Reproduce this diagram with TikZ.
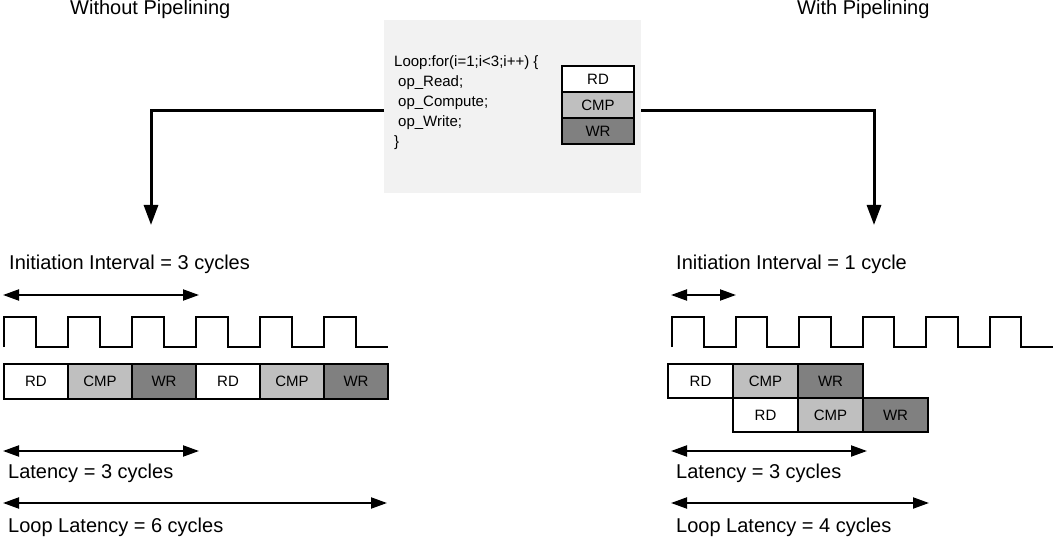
\documentclass[tikz,border=0pt]{standalone}
\usepackage{fontspec}
\setmainfont{Liberation Sans}
\usetikzlibrary{arrows.meta,positioning}

\begin{document}
\begin{tikzpicture}[
    x=1pt, y=-1pt,
    node distance=0pt,
    caption/.style = {anchor=base west, inner sep=0pt, font=\fontsize{20}{24}\selectfont},
    codeline/.style = {anchor=base west, inner sep=0pt, font=\fontsize{15}{18}\selectfont},
    stage/.style = {draw, line width=2.2pt, inner sep=0pt, outer sep=0pt, minimum width=64pt, minimum height=35pt, font=\fontsize{15}{18}\selectfont},
    rdbox/.style = {stage, fill=white},
    cmpbox/.style = {stage, fill=black!25},
    wrbox/.style = {stage, fill=black!50},
    clock/.style = {line width=2pt, line join=miter},
    flow/.style = {line width=3pt, -{Triangle[length=20pt, width=14pt]}},
    span/.style = {line width=2pt, {Triangle[length=16pt, width=11pt]}-{Triangle[length=16pt, width=11pt]}}
]
    \useasboundingbox (0,0) rectangle (1056,537);

    % Titres
    \node[caption] (title1) at (70,15) {Without Pipelining};
    \node[caption] (title2) at (797,15) {With Pipelining};

    % Boucle source
    \node[fill=black!5, outer sep=0pt, minimum width=257pt, minimum height=173pt] (code) at (512.5,106.5) {};
    \node[codeline] (c1) at (394,67) {Loop:for(i=1;i<3;i++) \{};
    \node[codeline] (c2) at (398,87) {op\_Read;};
    \node[codeline] (c3) at (398,107) {op\_Compute;};
    \node[codeline] (c4) at (398,127) {op\_Write;};
    \node[codeline] (c5) at (394,147) {\}};

    \node[rdbox, minimum width=72pt, minimum height=26pt] (rd0) at (598,79) {RD};
    \node[cmpbox, minimum width=72pt, minimum height=26pt] (cmp0) [below=of rd0] {CMP};
    \node[wrbox, minimum width=72pt, minimum height=26pt] (wr0) [below=of cmp0] {WR};

    \coordinate (tipL) at (151,225);
    \coordinate (tipR) at (874,225);
    \draw[flow] ([yshift=-4.5pt]code.west) -| (tipL);
    \draw[flow] ([yshift=-4.5pt]code.east) -| (tipR);

    % Sans pipeline
    \node[caption] (ii1) at (9,269) {Initiation Interval = 3 cycles};
    \coordinate (ii1a) at (3,295);
    \coordinate (ii1b) at (199,295);
    \draw[span] (ii1a) -- (ii1b);

    \draw[clock] (4,347) \foreach \k in {0,...,5} { -- ++(0,-30) -- ++(32,0) -- ++(0,30) -- ++(32,0) };

    \node[rdbox] (rdA) at (36,381.5) {RD};
    \node[cmpbox] (cmpA) [right=of rdA] {CMP};
    \node[wrbox] (wrA) [right=of cmpA] {WR};
    \node[rdbox] (rdB) [right=of wrA] {RD};
    \node[cmpbox] (cmpB) [right=of rdB] {CMP};
    \node[wrbox] (wrB) [right=of cmpB] {WR};

    \coordinate (lat1a) at (3,451);
    \coordinate (lat1b) at (199,451);
    \draw[span] (lat1a) -- (lat1b);
    \node[caption] (lat1) at (8,478) {Latency = 3 cycles};

    \coordinate (loop1a) at (3,503);
    \coordinate (loop1b) at (387,503);
    \draw[span] (loop1a) -- (loop1b);
    \node[caption] (loop1) at (8,532) {Loop Latency = 6 cycles};

    % Avec pipeline
    \node[caption] (ii2) at (676,269) {Initiation Interval = 1 cycle};
    \coordinate (ii2a) at (671,295);
    \coordinate (ii2b) at (736,295);
    \draw[span] (ii2a) -- (ii2b);

    \draw[clock] (672,347) \foreach \k in {0,...,5} { -- ++(0,-30) -- ++(31.75,0) -- ++(0,30) -- ++(31.75,0) };

    \node[rdbox, minimum width=65pt, minimum height=34pt] (rdC) at (700.5,381) {RD};
    \node[cmpbox, minimum width=65pt, minimum height=34pt] (cmpC) [right=of rdC] {CMP};
    \node[wrbox, minimum width=65pt, minimum height=34pt] (wrC) [right=of cmpC] {WR};
    \node[rdbox, minimum width=65pt, minimum height=34pt] (rdD) [below=of cmpC] {RD};
    \node[cmpbox, minimum width=65pt, minimum height=34pt] (cmpD) [right=of rdD] {CMP};
    \node[wrbox, minimum width=65pt, minimum height=34pt] (wrD) [right=of cmpD] {WR};

    \coordinate (lat2a) at (671,451);
    \coordinate (lat2b) at (867,451);
    \draw[span] (lat2a) -- (lat2b);
    \node[caption] (lat2) at (676,478) {Latency = 3 cycles};

    \coordinate (loop2a) at (671,503);
    \coordinate (loop2b) at (929,503);
    \draw[span] (loop2a) -- (loop2b);
    \node[caption] (loop2) at (676,532) {Loop Latency = 4 cycles};

\end{tikzpicture}
\end{document}
